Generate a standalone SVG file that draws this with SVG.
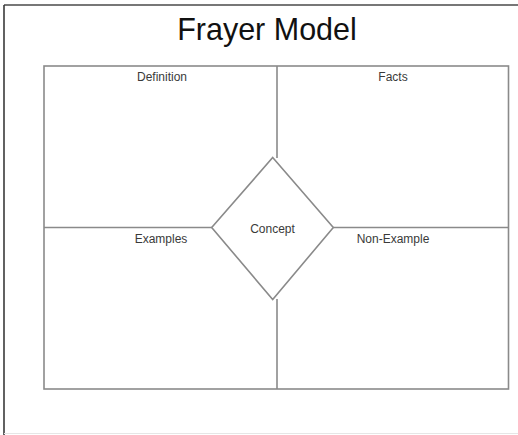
<svg xmlns="http://www.w3.org/2000/svg" width="518" height="435" viewBox="0 0 518 435">
  <style>
    .frame { fill: none; stroke: #8a8a8a; stroke-width: 1.6; }
    .label { font-family: "Liberation Sans", Arial, sans-serif; font-size: 12px; fill: #3a3a3a; text-anchor: middle; }
    .title { font-family: "Liberation Sans", Arial, sans-serif; font-size: 30.5px; fill: #111; text-anchor: middle; }
  </style>
  <rect x="0" y="0" width="518" height="435" fill="#ffffff"/>
  <!-- page border: dark top and left edges, faint bottom edge -->
  <line x1="4" y1="5" x2="518" y2="5" stroke="#4a4a4a" stroke-width="1.6"/>
  <line x1="4" y1="5" x2="4" y2="435" stroke="#3a3a3a" stroke-width="1.6"/>
  <line x1="4" y1="433.5" x2="518" y2="433.5" stroke="#e6e6e6" stroke-width="1"/>

  <text class="title" x="267" y="40">Frayer Model</text>

  <g id="connectors">
    <line class="frame" x1="277" y1="66" x2="277" y2="158"/>
    <line class="frame" x1="277" y1="299" x2="277" y2="389"/>
    <line class="frame" x1="44" y1="227.5" x2="212" y2="227.5"/>
    <line class="frame" x1="333" y1="227.5" x2="508.5" y2="227.5"/>
  </g>

  <g id="outer-box">
    <rect class="frame" x="44" y="66" width="464.5" height="323"/>
  </g>

  <g id="definition">
    <text class="label" x="162" y="81">Definition</text>
  </g>
  <g id="facts">
    <text class="label" x="393" y="81">Facts</text>
  </g>
  <g id="examples">
    <text class="label" x="161" y="243">Examples</text>
  </g>
  <g id="non-example">
    <text class="label" x="393" y="243">Non-Example</text>
  </g>
  <g id="concept">
    <polygon class="frame" fill="#ffffff" points="272.7,157.5 333.3,227.5 272.7,299.5 211.7,227.5"/>
    <text class="label" x="272.5" y="233">Concept</text>
  </g>
</svg>
